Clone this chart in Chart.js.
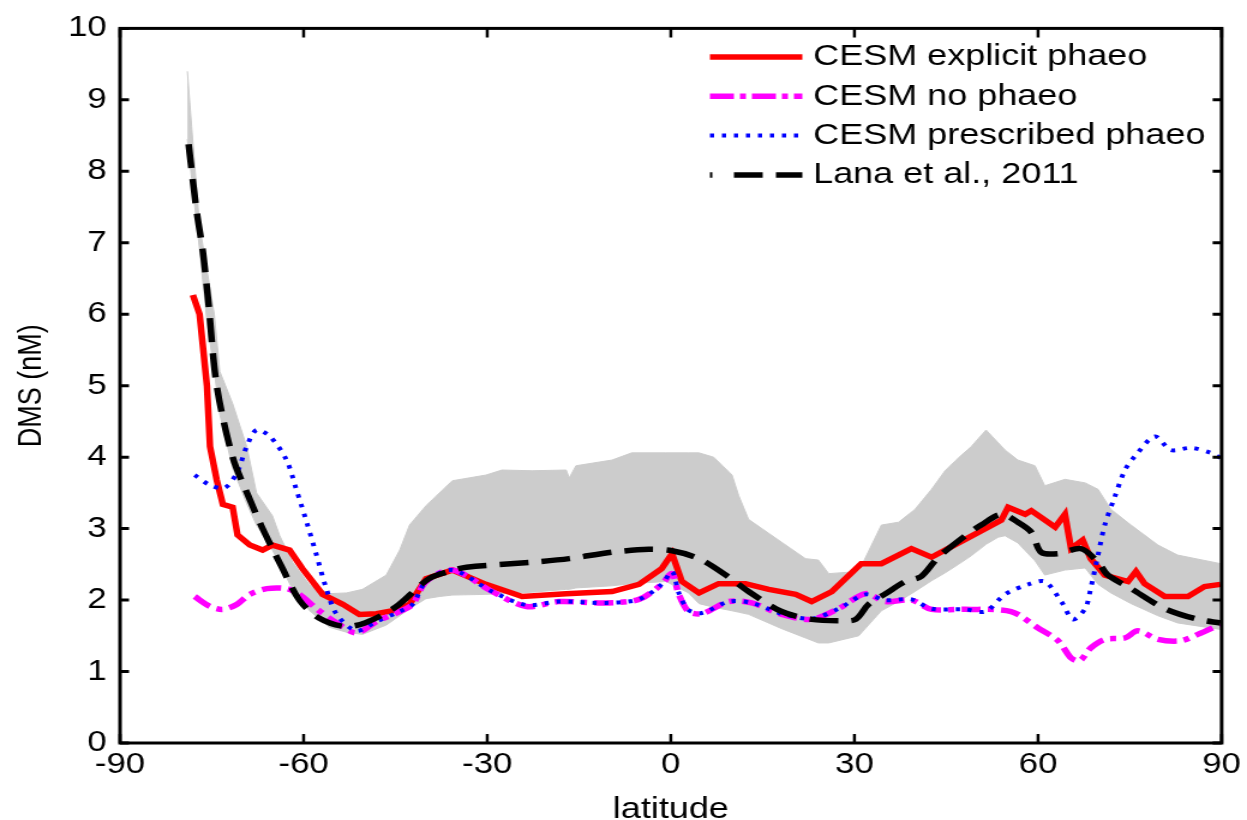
<!DOCTYPE html>
<html>
<head>
<meta charset="utf-8">
<title>DMS vs latitude</title>
<script src="https://cdn.jsdelivr.net/npm/chart.js@4.4.0/dist/chart.umd.min.js"></script>
<style>
  html, body { margin: 0; padding: 0; background: #fff; }
</style>
</head>
<body>
<canvas id="chart" width="1039" height="820" style="display:block;width:1247px;height:820px"></canvas>
<script>
  /* ===================== DATA ===================== */

  const latTicks = [-90, -60, -30, 0, 30, 60, 90];
  const dmsTicks = [0, 1, 2, 3, 4, 5, 6, 7, 8, 9, 10];

  // CESM explicit phaeo
  const redLat = [-78.1, -77, -75.8, -75.3, -74.2, -73.2, -71.6, -70.8, -68.8, -66.7, -65.1, -62.3, -60.2, -56.9, -53.6, -50.9, -48.1, -45, -42.7, -40, -35.7, -30.2, -24.3, -17.1, -9.6, -5.2, -1.5, 0.2, 1.8, 4.6, 7.8, 12.2, 16, 20.4, 23, 26.3, 31.1, 34.4, 39.3, 42.6, 48.1, 54, 55.1, 57.9, 58.9, 62.8, 64.4, 65.4, 67.3, 68.6, 70.9, 74.7, 76, 77.4, 80.7, 84.5, 87.2, 89.8];
  const redDms = [6.27, 6.0, 5.0, 4.15, 3.68, 3.34, 3.30, 2.91, 2.77, 2.70, 2.77, 2.70, 2.44, 2.08, 1.94, 1.80, 1.81, 1.86, 1.94, 2.30, 2.42, 2.22, 2.05, 2.09, 2.12, 2.22, 2.44, 2.65, 2.26, 2.10, 2.23, 2.23, 2.15, 2.08, 1.98, 2.12, 2.51, 2.51, 2.72, 2.60, 2.85, 3.12, 3.30, 3.20, 3.25, 3.02, 3.20, 2.72, 2.84, 2.58, 2.35, 2.26, 2.40, 2.23, 2.05, 2.05, 2.19, 2.22];

  // CESM no phaeo
  const magLat = [-77.8, -75.3, -73.2, -70.9, -68.8, -66, -62.8, -60.7, -57.9, -54.6, -51.4, -48.1, -44.3, -42.2, -40, -35.7, -29.2, -23.6, -18.3, -10.6, -5.2, -1.5, 0.2, 1.3, 2.9, 5.1, 9.5, 13.2, 18.1, 23, 27.4, 31.8, 35, 39.3, 42.6, 48.1, 55.6, 60, 63.3, 65.4, 66.8, 68.6, 70.9, 74.2, 76.3, 79.6, 83.3, 86.1, 89.8];
  const magDms = [2.05, 1.91, 1.87, 1.94, 2.08, 2.16, 2.16, 2.08, 1.88, 1.68, 1.54, 1.70, 1.84, 1.94, 2.26, 2.42, 2.12, 1.91, 1.98, 1.96, 2.01, 2.22, 2.37, 2.08, 1.84, 1.81, 1.98, 1.96, 1.80, 1.73, 1.88, 2.09, 1.98, 2.00, 1.87, 1.87, 1.84, 1.61, 1.43, 1.19, 1.15, 1.33, 1.45, 1.47, 1.57, 1.45, 1.43, 1.52, 1.66];

  // CESM prescribed phaeo
  const bluLat = [-77.8, -75.3, -72.9, -70.9, -69.3, -67.7, -65.5, -62.8, -61.2, -59.5, -57.9, -56.3, -54.6, -51.4, -48.1, -44.3, -42.2, -40, -35.7, -29.2, -23.6, -18.3, -10.6, -5.2, -1.5, 0.2, 1.3, 2.9, 5.1, 9.5, 13.2, 18.1, 23, 27.4, 31.8, 35, 39.3, 42.6, 48.1, 51.4, 54.6, 58.4, 61.1, 63.8, 65.7, 67.7, 68.6, 69.8, 70.9, 72.6, 74.2, 75.8, 79.1, 81.7, 85, 88.2, 89.8];
  const bluDms = [3.75, 3.61, 3.57, 3.78, 4.15, 4.38, 4.29, 3.96, 3.55, 3.09, 2.63, 2.16, 1.80, 1.57, 1.70, 1.84, 1.94, 2.26, 2.42, 2.12, 1.93, 1.98, 1.96, 2.01, 2.22, 2.40, 2.10, 1.86, 1.82, 1.98, 1.96, 1.81, 1.74, 1.88, 2.08, 2.00, 2.01, 1.88, 1.87, 1.84, 2.08, 2.22, 2.26, 1.98, 1.73, 1.88, 2.16, 2.63, 3.05, 3.46, 3.82, 4.01, 4.29, 4.10, 4.13, 4.06, 3.99];

  // Lana et al., 2011
  const lanaLat = [-78.8, -77.5, -76.5, -75.6, -74.2, -71.6, -69, -66.7, -63.5, -60.7, -57.5, -53.3, -50, -45, -39.5, -35.4, -33.4, -22.6, -16.6, -9.6, -3.6, 0.2, 4.6, 9, 12.7, 18.1, 23, 27.9, 30.2, 32.3, 35.1, 38.3, 40.9, 43.7, 48.1, 50.7, 54, 56.7, 58.9, 60.5, 63.3, 67, 69.8, 71.4, 75.2, 80.7, 86.1, 89.8];
  const lanaDms = [8.38, 7.45, 6.9, 6.2, 5.0, 4.0, 3.45, 3.0, 2.45, 2.0, 1.75, 1.63, 1.68, 1.9, 2.3, 2.42, 2.46, 2.53, 2.58, 2.67, 2.71, 2.69, 2.58, 2.35, 2.12, 1.84, 1.73, 1.71, 1.73, 1.94, 2.09, 2.26, 2.33, 2.6, 2.9, 3.05, 3.2, 3.09, 2.95, 2.67, 2.65, 2.72, 2.53, 2.35, 2.16, 1.88, 1.73, 1.68];

  // grey range of the climatology
  const bandLat = [-79, -78.3, -77, -75.8, -74.6, -73.7, -71.6, -69.3, -67.7, -65.1, -63.9, -61.8, -59, -55.8, -53, -50.4, -46.5, -44.3, -42.7, -40, -37.8, -35.7, -30.2, -27.6, -22.7, -17.1, -16.6, -15.5, -9.6, -6.4, -0.8, 2.9, 4.6, 7, 10, 11.1, 12.7, 18.1, 22, 24.1, 25.8, 30.7, 34.4, 37.2, 39.9, 42.6, 44.8, 47, 49.1, 51.5, 53.5, 54.6, 56.7, 59.5, 61.1, 64.4, 67.7, 69.8, 71.9, 75.2, 79.6, 82.8, 89.8];
  const bandHigh = [9.4, 8.63, 7.24, 6.62, 6.0, 5.2, 4.75, 4.15, 3.5, 3.18, 2.9, 2.53, 2.21, 2.09, 2.1, 2.15, 2.35, 2.7, 3.05, 3.32, 3.5, 3.67, 3.75, 3.82, 3.81, 3.82, 3.71, 3.88, 3.96, 4.06, 4.06, 4.06, 4.06, 4.0, 3.75, 3.46, 3.13, 2.81, 2.58, 2.56, 2.37, 2.4, 3.05, 3.09, 3.27, 3.55, 3.81, 3.99, 4.15, 4.38, 4.2, 4.1, 3.96, 3.88, 3.6, 3.69, 3.64, 3.55, 3.27, 3.05, 2.77, 2.63, 2.51];
  const bandLow = [8.45, 7.9, 6.9, 5.9, 5.2, 4.6, 3.85, 3.35, 3.05, 2.7, 2.5, 2.15, 1.85, 1.62, 1.55, 1.52, 1.65, 1.78, 1.88, 2.02, 2.05, 2.07, 2.08, 2.09, 2.11, 2.15, 2.15, 2.17, 2.2, 2.23, 2.26, 2.1, 1.95, 1.9, 1.85, 1.83, 1.8, 1.6, 1.47, 1.4, 1.4, 1.5, 1.85, 1.98, 2.12, 2.27, 2.38, 2.5, 2.62, 2.78, 2.88, 2.9, 2.8, 2.55, 2.35, 2.42, 2.45, 2.22, 2.1, 1.95, 1.78, 1.68, 1.59];

  /* ===================== HELPERS ===================== */

  let pts = (lat, val) => lat.map((x, i) => ({ x, y: val[i] }));

  const FONT = "'Liberation Sans', Arial, Helvetica, sans-serif";

  /* ===================== PLUGINS ===================== */

  // MATLAB style box with inward ticks on all four sides
  let boxPlugin = {
    id: 'box',
    afterDatasetsDraw(chart) {
      let { ctx, chartArea: a, scales: { x, y } } = chart;
      ctx.save();
      ctx.strokeStyle = '#000';
      ctx.setLineDash([]);
      ctx.lineWidth = 3;
      ctx.strokeRect(a.left, a.top, a.right - a.left, a.bottom - a.top);

      ctx.lineWidth = 2.5;
      ctx.beginPath();
      latTicks.forEach(v => {
        let px = x.getPixelForValue(v);
        ctx.moveTo(px, a.bottom); ctx.lineTo(px, a.bottom - 9);
        ctx.moveTo(px, a.top); ctx.lineTo(px, a.top + 9);
      });
      ctx.stroke();

      ctx.lineWidth = 3;
      ctx.beginPath();
      dmsTicks.forEach(v => {
        let py = y.getPixelForValue(v);
        ctx.moveTo(a.left, py); ctx.lineTo(a.left + 7.5, py);
        ctx.moveTo(a.right, py); ctx.lineTo(a.right - 7.5, py);
      });
      ctx.stroke();
      ctx.restore();
    }
  };

  // legend inside the axes, top right, no frame
  let legendPlugin = {
    id: 'insideLegend',
    afterDraw(chart) {
      let { ctx } = chart;
      let items = chart.data.datasets.filter(d => d.legendRow !== undefined)
        .sort((a, b) => a.legendRow - b.legendRow);
      ctx.save();
      items.forEach((d, i) => {
        let yy = 57 + i * 39.3;
        ctx.beginPath();
        ctx.strokeStyle = d.borderColor;
        ctx.lineWidth = d.borderWidth;
        ctx.lineCap = 'butt';
        ctx.setLineDash(d.legendDash || d.borderDash || []);
        ctx.moveTo(591.5, yy);
        ctx.lineTo(668.5, yy);
        ctx.stroke();

        ctx.setLineDash([]);
        ctx.fillStyle = '#000';
        ctx.font = `30px ${FONT}`;
        ctx.textAlign = 'left';
        ctx.textBaseline = 'middle';
        ctx.fillText(d.label, 677.5, yy);
      });
      ctx.restore();
    }
  };

  /* ===================== CHART ===================== */

  let ctx = document.getElementById('chart').getContext('2d');

  new Chart(ctx, {
    type: 'line',
    data: {
      datasets: [
        {
          label: 'Lana et al., 2011',
          legendRow: 3,
          data: pts(lanaLat, lanaDms),
          borderColor: '#000000',
          borderWidth: 5.5,
          borderDash: [24, 11],
          legendDash: [2, 18, 24, 11, 24, 11],
          tension: 0.3,
          pointRadius: 0,
          fill: false
        },
        {
          label: 'CESM prescribed phaeo',
          legendRow: 2,
          data: pts(bluLat, bluDms),
          borderColor: '#0000ff',
          borderWidth: 4,
          borderDash: [3.5, 6.5],
          tension: 0.3,
          pointRadius: 0,
          fill: false
        },
        {
          label: 'CESM no phaeo',
          legendRow: 1,
          data: pts(magLat, magDms),
          borderColor: '#ff00ff',
          borderWidth: 5.5,
          borderDash: [16, 6, 5, 6],
          legendDash: [20, 5, 5, 5],
          tension: 0.3,
          pointRadius: 0,
          fill: false
        },
        {
          label: 'CESM explicit phaeo',
          legendRow: 0,
          data: pts(redLat, redDms),
          borderColor: '#ff0000',
          borderWidth: 5.5,
          tension: 0,
          pointRadius: 0,
          fill: false
        },
        {
          label: 'range high',
          data: pts(bandLat, bandHigh),
          borderColor: '#cccccc',
          backgroundColor: '#cccccc',
          borderWidth: 1,
          tension: 0,
          pointRadius: 0,
          fill: '+1'
        },
        {
          label: 'range low',
          data: pts(bandLat, bandLow),
          borderColor: '#cccccc',
          borderWidth: 1,
          tension: 0,
          pointRadius: 0,
          fill: false
        }
      ]
    },
    options: {
      responsive: false,
      devicePixelRatio: 1,
      animation: false,
      events: [],
      layout: { padding: { top: 21, right: 19, left: 0, bottom: 0 } },
      plugins: {
        legend: { display: false },
        tooltip: { enabled: false }
      },
      scales: {
        x: {
          type: 'linear',
          min: -90,
          max: 90,
          afterBuildTicks: s => { s.ticks = latTicks.map(value => ({ value })); },
          afterFit: s => { s.height = 77; },
          grid: { display: false, drawTicks: false },
          border: { display: false },
          ticks: {
            autoSkip: false,
            maxRotation: 0,
            padding: 5,
            color: '#000',
            font: { family: FONT, size: 29 }
          },
          title: {
            display: true,
            text: 'latitude',
            color: '#000',
            font: { family: FONT, size: 30, lineHeight: 1 },
            padding: { top: 0, bottom: -5 }
          }
        },
        y: {
          type: 'linear',
          min: 0,
          max: 10,
          afterBuildTicks: s => { s.ticks = dmsTicks.map(value => ({ value })); },
          afterFit: s => { s.width = 100; },
          grid: { display: false, drawTicks: false },
          border: { display: false },
          ticks: {
            autoSkip: false,
            padding: 11,
            color: '#000',
            font: { family: FONT, size: 29 }
          },
          title: {
            display: true,
            text: 'DMS (nM)',
            color: '#000',
            font: { family: FONT, size: 27 },
            padding: { top: 10.5, bottom: 0 }
          }
        }
      }
    },
    plugins: [boxPlugin, legendPlugin]
  });
</script>
</body>
</html>
